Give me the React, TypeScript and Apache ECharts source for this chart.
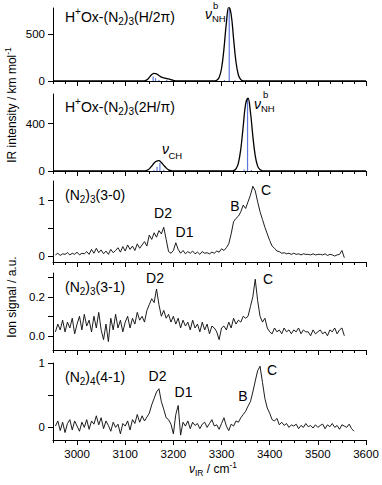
import React, { useEffect, useRef } from 'react';
import * as echarts from 'echarts';

const FONT = '"Liberation Sans", Arial, Helvetica, sans-serif';

const xMin = 2950;
const xMax = 3600;
const xMajorTicks = [3000, 3100, 3200, 3300, 3400, 3500, 3600];
const xMinorTicks = [2950, 2975, 3000, 3025, 3050, 3075, 3100, 3125, 3150, 3175, 3200, 3225, 3250, 3275, 3300, 3325, 3350, 3375, 3400, 3425, 3450, 3475, 3500, 3525, 3550, 3575, 3600];

// Calculated IR spectra (km/mol)
const calcH2pi = [[2950, 0], [3135, 0], [3140, 2], [3145, 12], [3150, 38], [3155, 68], [3160, 82], [3165, 76], [3170, 58], [3175, 42], [3180, 34], [3185, 28], [3190, 22], [3195, 14], [3200, 6], [3205, 2], [3210, 0], [3280, 0], [3285, 1], [3290, 7], [3295, 37], [3300, 133], [3305, 341], [3310, 615], [3315, 787], [3320, 707], [3325, 450], [3330, 202], [3335, 64], [3340, 15], [3345, 2], [3350, 0], [3600, 0]];
const sticksH2pi = [[3158, 48], [3163, 30], [3170, 10], [3186, 12], [3196, 6], [3306, 10], [3316, 760], [3328, 8]];

const calc2Hpi = [[2950, 0], [3135, 0], [3140, 1], [3145, 5], [3150, 18], [3155, 42], [3160, 68], [3165, 84], [3170, 87], [3175, 72], [3180, 48], [3185, 26], [3190, 10], [3195, 3], [3200, 0], [3320, 0], [3325, 3], [3330, 18], [3335, 67], [3340, 186], [3345, 378], [3350, 565], [3355, 615], [3360, 499], [3365, 295], [3370, 128], [3375, 41], [3380, 10], [3385, 2], [3390, 0], [3600, 0]];
const sticks2Hpi = [[3160, 8], [3166, 35], [3172, 68], [3180, 10], [3347, 12], [3354, 600], [3362, 8]];

// Experimental spectra: start 2955 cm-1, step 5 cm-1
const expStart = 2955;
const expStep = 5;
const spec30 = [
  0.02, 0.05, 0.01, 0.04, 0.03, 0.06, 0.02, 0.05, 0.03, 0.07,
  0.02, 0.05, 0.04, 0.08, 0.03, 0.12, 0.05, 0.14, 0.06, 0.11,
  0.04, 0.09, 0.03, 0.12, 0.06, 0.10, 0.15, 0.07, 0.17, 0.09,
  0.20, 0.12, 0.18, 0.10, 0.22, 0.14, 0.20, 0.26, 0.18, 0.38,
  0.30, 0.42, 0.34, 0.46, 0.40, 0.52, 0.30, 0.08, 0.05, 0.10,
  0.24, 0.12, 0.05, 0.10, 0.04, 0.08, 0.05, 0.09, 0.04, 0.07,
  0.03, 0.08, 0.05, 0.06, 0.04, 0.07, 0.05, 0.09, 0.07, 0.13,
  0.10, 0.15, 0.22, 0.40, 0.62, 0.68, 0.72, 0.80, 0.92, 0.86,
  0.98, 1.10, 1.26, 1.18, 0.98, 0.80, 0.66, 0.52, 0.40, 0.28,
  0.18, 0.14, 0.09, 0.08, 0.05, 0.06, 0.04, 0.05, 0.03, 0.05,
  0.03, 0.04, 0.02, 0.04, 0.03, 0.03, 0.02, 0.04, 0.02, 0.03,
  0.03, 0.02, 0.04, 0.01, 0.03, 0.02, 0.00, 0.02, 0.03, 0.10,
  -0.03,
];
const spec31 = [
  0.02, 0.06, 0.03, 0.08, 0.02, 0.07, 0.04, 0.09, 0.01, 0.06,
  0.10, 0.03, 0.11, 0.05, 0.08, 0.02, 0.10, 0.04, 0.12, 0.03,
  -0.02, 0.06, -0.03, 0.09, 0.03, 0.11, 0.04, 0.08, 0.02, 0.07,
  0.10, 0.04, 0.09, 0.06, 0.12, 0.08, 0.10, 0.07, 0.13, 0.16,
  0.19, 0.17, 0.24, 0.16, 0.10, 0.13, 0.09, 0.11, 0.07, 0.10,
  0.06, 0.09, 0.04, 0.08, 0.05, 0.07, 0.03, 0.08, 0.04, 0.06,
  0.02, 0.07, 0.03, 0.06, 0.01, 0.05, 0.04, 0.02, -0.02, 0.04,
  0.05, 0.03, 0.07, 0.04, 0.09, 0.06, 0.08, 0.07, 0.10, 0.09,
  0.10, 0.15, 0.20, 0.29, 0.18, 0.10, 0.07, 0.09, 0.04, 0.02,
  0.01, 0.04, 0.02, 0.03, 0.01, 0.04, 0.02, 0.03, 0.01, 0.03,
  0.02, 0.04, 0.01, 0.03, 0.02, 0.02, 0.00, 0.03, 0.01, 0.02,
  0.03, 0.01, 0.02, 0.00, 0.03, 0.02, 0.04, 0.01, 0.03, 0.04,
  0.00,
];
const spec41 = [
  0.02, 0.10, -0.05, 0.08, -0.08, 0.06, 0.12, -0.04, 0.10, 0.02,
  -0.06, 0.08, 0.00, 0.12, -0.03, 0.10, 0.05, 0.18, 0.04, 0.15,
  -0.02, 0.10, 0.03, -0.06, 0.08, 0.00, 0.05, -0.10, 0.06, 0.02,
  0.10, -0.04, 0.12, 0.06, 0.20, 0.08, 0.18, 0.10, 0.16, 0.22,
  0.35, 0.45, 0.55, 0.60, 0.40, 0.28, 0.15, 0.12, 0.05, -0.10,
  0.20, 0.34, -0.12, 0.08, 0.02, 0.10, -0.02, 0.08, 0.03, 0.06,
  -0.02, 0.05, 0.08, 0.00, 0.06, 0.12, 0.02, 0.04, -0.03, 0.06,
  0.15, 0.02, -0.05, 0.05, 0.02, 0.10, 0.08, 0.15, 0.20, 0.25,
  0.33, 0.40, 0.55, 0.72, 0.88, 0.95, 0.70, 0.45, 0.30, 0.22,
  0.12, 0.10, 0.14, 0.04, 0.08, 0.03, 0.06, 0.00, 0.04, 0.02,
  0.05, -0.02, 0.03, 0.00, 0.06, 0.01, 0.03, -0.01, 0.04, 0.00,
  0.03, 0.05, -0.02, 0.04, 0.01, 0.06, 0.00, 0.03, -0.03, 0.04,
  0.02, 0.00, 0.05, -0.02, -0.06,
];

// Y-axis ranges, ticks and labels per panel
const yRanges = [[0, 776], [0, 651], [-0.108, 1.356], [-0.073, 0.322], [-0.196, 1.0]];
const yTicks = [[0, 500], [0, 400], [0, 0.5, 1], [0, 0.1, 0.2, 0.3], [0, 0.5, 1]];
const yLabels = [[0, 500], [0, 400], [0, 1], [0, 0.2], [0, 1]];

const gridBoxes = [
  { top: 8, height: 73 },
  { top: 94, height: 77 },
  { top: 181, height: 81 },
  { top: 273, height: 77 },
  { top: 363, height: 77 },
];

const pairs = (vals: number[]) => vals.map((v, i) => [expStart + i * expStep, v]);

const STICK = '#5a78dc';

let measureCtx: CanvasRenderingContext2D | null = null;
function textWidth(t: string, size: number, italic: boolean) {
  if (!measureCtx) measureCtx = document.createElement('canvas').getContext('2d');
  if (!measureCtx) return t.length * size * 0.55;
  measureCtx.font = `${italic ? 'italic ' : ''}${size}px ${FONT}`;
  return measureCtx.measureText(t).width;
}

type Kind = 'm' | 'sub' | 'sup' | 'i';
type Part = [string, Kind];

function composite(parts: Part[], x: number, y: number, size: number, align: 'left' | 'center' = 'left', rotation = 0) {
  const small = Math.round(size * 0.72 * 2) / 2;
  const subDy = size * 0.3;
  const supDy = -size * 0.36;
  const specs = parts.map(([t, k]) => {
    const fs = k === 'sub' || k === 'sup' ? small : size;
    const italic = k === 'i';
    return { t, k, fs, italic, w: textWidth(t, fs, italic) };
  });
  const total = specs.reduce((s, p) => s + p.w, 0);
  let cur = align === 'center' ? -total / 2 : 0;
  const children = specs.map((p) => {
    const el = {
      type: 'text',
      x: cur,
      y: p.k === 'sub' ? subDy : p.k === 'sup' ? supDy : 0,
      style: {
        text: p.t, align: 'left', verticalAlign: 'middle', fontFamily: FONT, fontSize: p.fs,
        fontStyle: p.italic ? 'italic' : 'normal', fill: '#000',
      },
    };
    cur += p.w;
    return el;
  });
  return { type: 'group', x, y, rotation, children };
}

function plain(text: string, x: number, y: number, size = 14, align = 'center', italic = false) {
  return {
    type: 'text',
    x,
    y,
    style: { text, align, verticalAlign: 'middle', fontFamily: FONT, fontSize: size, fontStyle: italic ? 'italic' : 'normal', fill: '#000' },
  };
}

export default function App() {
  const ref = useRef<HTMLDivElement>(null);
  useEffect(() => {
    if (!ref.current) return;
    const chart = echarts.init(ref.current, null, { renderer: 'svg' });
    const grid = gridBoxes.map((g) => ({ left: 53, right: 16, top: g.top, height: g.height }));
    const xAxis: any[] = [];
    const yAxis: any[] = [];
    gridBoxes.forEach((_, i) => {
      xAxis.push({
        type: 'value', gridIndex: i, min: xMin, max: xMax, position: 'bottom',
        axisLine: { show: true, onZero: false, lineStyle: { color: '#000', width: 1 } },
        axisTick: { show: true, customValues: xMinorTicks, length: 3, lineStyle: { color: '#000', width: 1 } },
        axisLabel: { show: false },
        splitLine: { show: false },
      });
      xAxis.push({
        type: 'value', gridIndex: i, min: xMin, max: xMax, position: 'bottom',
        axisLine: { show: false, onZero: false },
        axisTick: { show: true, customValues: xMajorTicks, length: 5, lineStyle: { color: '#000', width: 1 } },
        axisLabel: {
          show: i === 4, customValues: xMajorTicks, fontSize: 11.5, color: '#000', fontFamily: FONT, margin: 8,
          formatter: (v: number) => String(v),
        },
        splitLine: { show: false },
      });
      yAxis.push({
        type: 'value', gridIndex: i, min: yRanges[i][0], max: yRanges[i][1],
        axisLine: { show: true, onZero: false, lineStyle: { color: '#000', width: 1 } },
        axisTick: { show: true, customValues: yTicks[i], length: 5, lineStyle: { color: '#000', width: 1 } },
        axisLabel: {
          customValues: yLabels[i], fontSize: 11.5, color: '#000', fontFamily: FONT, margin: 8,
          formatter: (v: number) => (i === 3 ? v.toFixed(1) : String(v)),
        },
        splitLine: { show: false },
      });
    });
    const lineBase = { type: 'line', showSymbol: false, symbol: 'none', animation: false };
    const expStyle = { color: '#111', width: 0.95 };
    const series: any[] = [
      { ...lineBase, xAxisIndex: 0, yAxisIndex: 0, data: calcH2pi, smooth: 0.4, lineStyle: { color: '#000', width: 1.3 } },
      { type: 'bar', xAxisIndex: 0, yAxisIndex: 0, data: sticksH2pi, barWidth: 1.2, itemStyle: { color: STICK } },
      { ...lineBase, xAxisIndex: 2, yAxisIndex: 1, data: calc2Hpi, smooth: 0.4, lineStyle: { color: '#000', width: 1.3 } },
      { type: 'bar', xAxisIndex: 2, yAxisIndex: 1, data: sticks2Hpi, barWidth: 1.2, itemStyle: { color: STICK } },
      { ...lineBase, xAxisIndex: 4, yAxisIndex: 2, data: pairs(spec30), lineStyle: expStyle },
      { ...lineBase, xAxisIndex: 6, yAxisIndex: 3, data: pairs(spec31), lineStyle: expStyle },
      { ...lineBase, xAxisIndex: 8, yAxisIndex: 4, data: pairs(spec41), lineStyle: expStyle },
    ];
    const graphic: any[] = [
      composite([['H', 'm'], ['+', 'sup'], ['Ox-(N', 'm'], ['2', 'sub'], [')', 'm'], ['3', 'sub'], ['(H/2π)', 'm']], 65, 17, 14),
      composite([['H', 'm'], ['+', 'sup'], ['Ox-(N', 'm'], ['2', 'sub'], [')', 'm'], ['3', 'sub'], ['(2H/π)', 'm']], 65, 107, 14),
      composite([['(N', 'm'], ['2', 'sub'], [')', 'm'], ['3', 'sub'], ['(3-0)', 'm']], 65, 195, 14),
      composite([['(N', 'm'], ['2', 'sub'], [')', 'm'], ['3', 'sub'], ['(3-1)', 'm']], 65, 287, 14),
      composite([['(N', 'm'], ['2', 'sub'], [')', 'm'], ['4', 'sub'], ['(4-1)', 'm']], 65, 377, 14),
      plain('ν', 205, 14, 14, 'left', true),
      plain('b', 213, 5, 9.5, 'left'),
      plain('NH', 212, 18, 9.5, 'left'),
      plain('ν', 254, 104, 14, 'left', true),
      plain('b', 263, 94, 9.5, 'left'),
      plain('NH', 261, 108.5, 9.5, 'left'),
      plain('ν', 162, 149, 14, 'left', true),
      plain('CH', 168.5, 155, 9.5, 'left'),
      plain('D2', 163, 213), plain('D1', 184.5, 232), plain('B', 235, 206), plain('C', 266, 190),
      plain('D2', 155, 278), plain('C', 268, 279),
      plain('D2', 157.5, 375.5), plain('D1', 183.5, 392), plain('B', 243, 396), plain('C', 272, 370),
      composite([['IR intensity / km mol', 'm'], ['-1', 'sup']], 12, 105, 12, 'center', Math.PI / 2),
      composite([['Ion signal / a.u.', 'm']], 12, 297, 12, 'center', Math.PI / 2),
      composite([['ν', 'i'], ['IR', 'sub'], [' / cm', 'm'], ['-1', 'sup']], 213, 469, 12, 'center'),
    ];
    chart.setOption({
      animation: false,
      backgroundColor: '#fff',
      grid, xAxis, yAxis, series, graphic,
    });
    return () => chart.dispose();
  }, []);
  return <div ref={ref} style={{ position: 'fixed', left: 0, top: 0, width: 382, height: 485, background: '#fff' }} />;
}
